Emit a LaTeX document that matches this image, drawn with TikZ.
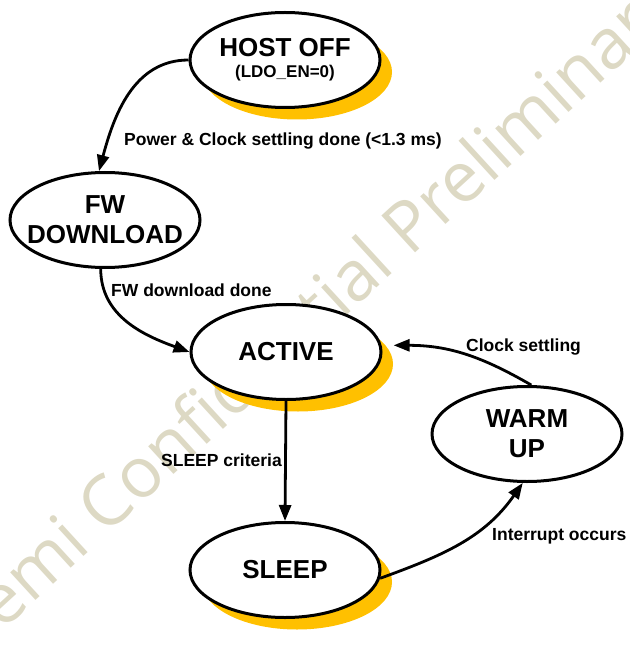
\documentclass[tikz,border=0pt]{standalone}
\usepackage{fontspec}
\setmainfont{Liberation Sans}
\newfontfamily\wmfont{Open Sans}
\usetikzlibrary{shapes.geometric, shadows, arrows.meta}
\definecolor{gold}{RGB}{255,192,0}
\definecolor{wmtan}{RGB}{221,217,196}

\begin{document}
\begin{tikzpicture}[x=1pt, y=1pt,
                    state/.style={draw, ellipse, line width=3pt, fill=white,
                                  minimum width=190pt, minimum height=95pt,
                                  inner xsep=-15pt, inner ysep=0pt,
                                  align=center, font=\fontsize{26}{30}\selectfont\bfseries},
                    shade/.style={drop shadow={shadow xshift=12pt, shadow yshift=-12pt,
                                               fill=gold, opacity=1}},
                    lbl/.style={inner sep=0, font=\fontsize{17.5}{20}\selectfont\bfseries},
                    trans/.style={line width=2.8pt, -{Triangle[length=16pt, width=12pt]}}]
                \useasboundingbox (0,0) rectangle (629,-660);
                \node [rotate=42.5, text=wmtan, font=\wmfont\fontsize{70}{80}\selectfont] (wm)
                      at (317,-318) {Semi Confidential Preliminary};

                \node [state, shade] (hostoff) at (285,-60)
                      {\raisebox{-3pt}{HOST OFF}\\[-6pt]{\fontsize{17}{20}\selectfont (LDO\_EN=0)}};
                \node [state] (fwdl) at (105,-220) {FW\\DOWNLOAD};
                \node [state, shade] (active) at (286,-352) {ACTIVE};
                \node [state] (warmup) at (527,-434) {WARM\\UP};
                \node [state, shade] (sleep) at (285,-570) {SLEEP};

                \draw [trans] (hostoff.west) to[out=180, in=75] (fwdl.97);
                \draw [trans] (fwdl.-95) to[out=-90, in=160] (active.west);
                \draw [trans] (active.south) -- (sleep.north);
                \draw [trans] (sleep.-5) to[out=20, in=-125] (warmup.-95);
                \draw [trans] (warmup.85) to[out=150, in=0] ([xshift=12pt]active.4);

                \node [lbl, anchor=west] (l1) at (124,-141) {Power \& Clock settling done (<1.3 ms)};
                \node [lbl, anchor=west] (l2) at (111,-290) {FW download done};
                \node [lbl, anchor=east] (l3) at (282,-460) {SLEEP criteria};
                \node [lbl, anchor=west] (l4) at (492,-536) {Interrupt occurs};
                \node [lbl, anchor=west] (l5) at (466,-347) {Clock settling};
            \end{tikzpicture}
\end{document}
